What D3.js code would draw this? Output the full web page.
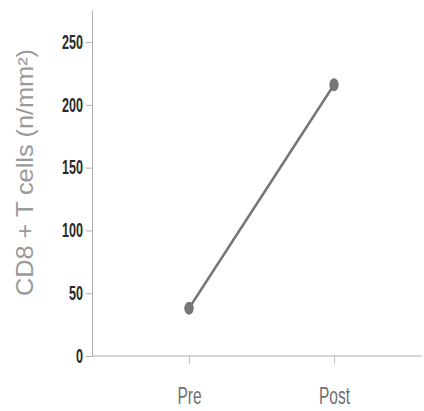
<!DOCTYPE html>
<html><head><meta charset="utf-8">
<script src="https://cdn.jsdelivr.net/npm/d3@7"></script>
<style>body{margin:0;background:#fff;}svg{display:block;}</style>
</head><body>
<svg id="chart" width="424" height="411"></svg>
<script>
const categories = ["Pre", "Post"];
const values = [38, 216];
const yTicks = [0, 50, 100, 150, 200, 250];
const yLabel = "CD8 + T cells (n/mm\u00B2)";

const svg = d3.select("#chart");
const m = {left: 92, top: 10};
const W = 424;
const SY = 1.55; // vertical stretch of the tick text in the reference

const x = d3.scalePoint().domain(categories).range([189, 334]);
const y = d3.scaleLinear().domain([0, 275.5]).range([356, 10]);

// y axis
const ya = svg.append("g").attr("transform", `translate(${m.left},0)`)
  .call(d3.axisLeft(y).tickValues(yTicks).tickSize(6).tickPadding(3).tickSizeOuter(0));
ya.select(".domain").attr("stroke", "#b0b0b0");
ya.selectAll(".tick line").attr("stroke", "#b0b0b0");
ya.selectAll(".tick text").attr("fill", "#2a2a2a")
  .attr("font-family", "Liberation Sans, Arial, sans-serif")
  .attr("font-size", 12.6).attr("font-weight", "bold")
  .attr("transform", `scale(1,${SY})`);

// x axis
const xa = svg.append("g").attr("transform", `translate(0,356)`)
  .call(d3.axisBottom(x).tickSize(8).tickSizeOuter(0));
xa.select(".domain").attr("d", `M${m.left},0H${W - 2}`).attr("stroke", "#b0b0b0");
xa.selectAll(".tick line").attr("stroke", "#c0c0c0");
xa.selectAll(".tick text").attr("fill", "#707070")
  .attr("font-family", "Liberation Sans, Arial, sans-serif")
  .attr("font-size", 15.5).attr("y", 48 / 1.53).attr("dy", 0)
  .attr("transform", `scale(1,1.53)`);

// y label
svg.append("text").attr("transform", `translate(33,172.5) rotate(-90) scale(1.1,1)`)
  .attr("text-anchor", "middle").attr("fill", "#9a9a9a")
  .attr("font-family", "Liberation Sans, Arial, sans-serif").attr("font-size", 23)
  .text(yLabel);

// line
const pts = categories.map((c, i) => ({c, v: values[i]}));
svg.append("path").datum(pts)
  .attr("d", d3.line().x(d => x(d.c)).y(d => y(d.v)))
  .attr("fill", "none").attr("stroke", "#767676").attr("stroke-width", 2.5);
svg.selectAll("ellipse.pt").data(pts).join("ellipse")
  .attr("cx", d => x(d.c)).attr("cy", d => y(d.v)).attr("rx", 4.7).attr("ry", 6.5)
  .attr("fill", "#777");
</script>
</body></html>
